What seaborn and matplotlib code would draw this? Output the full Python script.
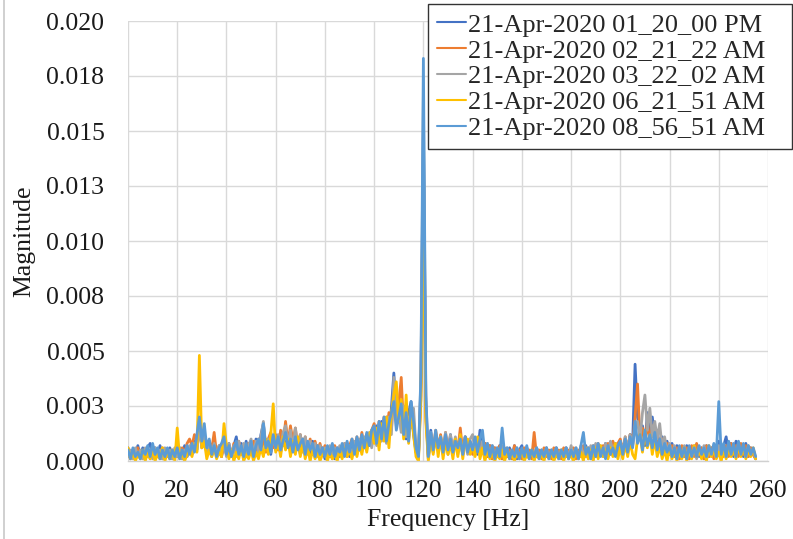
import numpy as np
import pandas as pd
import matplotlib
matplotlib.use("Agg")
import matplotlib.pyplot as plt
from matplotlib.lines import Line2D
import seaborn as sns

# Frequency axis: 1 Hz bins, 0..255 Hz
freq_hz = list(range(256))

# Spectral magnitudes in units of 1e-4
mag_0120pm = [
    6, 2, 5, 1, 7, 2, 6, 1, 6, 8, 3, 6, 2, 7, 1, 5, 2, 6, 1, 5,
    2, 6, 1, 7, 2, 6, 3, 9, 5, 18, 7, 12, 3, 8, 2, 7, 3, 6, 2, 9,
    3, 8, 2, 7, 11, 3, 8, 2, 9, 3, 8, 2, 10, 4, 12, 17, 5, 9, 3, 10,
    5, 9, 4, 11, 6, 12, 4, 10, 5, 9, 3, 10, 4, 8, 3, 9, 2, 7, 3, 6,
    1, 6, 2, 7, 1, 6, 2, 7, 3, 8, 2, 9, 4, 10, 5, 11, 6, 12, 7, 13,
    10, 16, 8, 18, 11, 20, 12, 24, 40, 20, 26, 14, 24, 10, 22, 27, 12, 4, 1, 35,
    150, 25, 1, 14, 4, 12, 5, 10, 3, 11, 4, 12, 3, 10, 4, 9, 3, 11, 5, 8,
    4, 9, 3, 14, 5, 8, 2, 7, 1, 6, 2, 7, 1, 5, 2, 6, 1, 7, 1, 5,
    7, 1, 6, 2, 5, 1, 6, 2, 5, 1, 6, 2, 5, 1, 6, 2, 5, 1, 6, 2,
    6, 1, 5, 2, 6, 3, 7, 2, 6, 1, 7, 2, 6, 3, 8, 2, 7, 3, 8, 4,
    9, 3, 10, 5, 12, 8, 44, 20, 12, 16, 7, 22, 12, 20, 10, 14, 6, 11, 4, 9,
    3, 8, 2, 7, 1, 6, 2, 7, 1, 6, 3, 7, 2, 6, 1, 7, 2, 6, 3, 7,
    9, 2, 7, 11, 3, 8, 2, 9, 3, 7, 2, 8, 2, 6, 3, 1,
]
mag_0221am = [
    4, 1, 5, 2, 6, 1, 4, 2, 6, 1, 7, 2, 5, 1, 6, 2, 4, 1, 5, 2,
    5, 2, 6, 3, 8, 10, 7, 12, 9, 17, 6, 11, 4, 9, 5, 13, 3, 7, 2, 8,
    3, 7, 2, 8, 4, 9, 3, 7, 2, 8, 4, 9, 3, 10, 5, 11, 4, 10, 13, 6,
    12, 5, 14, 7, 18, 8, 16, 9, 15, 6, 12, 5, 11, 4, 10, 3, 9, 4, 8, 3,
    7, 2, 6, 1, 7, 2, 6, 3, 8, 2, 7, 10, 4, 11, 5, 13, 6, 12, 7, 14,
    17, 9, 18, 11, 20, 12, 22, 14, 30, 18, 26, 38, 14, 25, 10, 22, 16, 4, 2, 30,
    140, 20, 2, 12, 5, 14, 6, 12, 4, 13, 5, 11, 4, 10, 5, 15, 4, 11, 5, 9,
    3, 10, 4, 9, 5, 8, 2, 7, 1, 6, 2, 7, 1, 6, 2, 5, 1, 7, 2, 5,
    1, 6, 2, 5, 1, 13, 2, 5, 1, 6, 2, 5, 1, 6, 2, 5, 1, 6, 2, 5,
    2, 6, 1, 5, 2, 7, 2, 6, 1, 7, 2, 8, 3, 7, 2, 8, 3, 9, 4, 8,
    10, 4, 11, 5, 12, 7, 20, 35, 10, 15, 8, 18, 9, 16, 7, 12, 5, 10, 3, 8,
    3, 7, 2, 6, 1, 7, 2, 6, 1, 7, 2, 8, 3, 6, 1, 7, 2, 6, 1, 7,
    3, 6, 2, 7, 2, 8, 3, 7, 2, 8, 3, 7, 2, 6, 3, 1,
]
mag_0322am = [
    2, 5, 1, 6, 2, 5, 1, 6, 2, 5, 1, 6, 2, 5, 1, 6, 2, 5, 1, 6,
    2, 6, 1, 5, 2, 7, 3, 8, 5, 15, 6, 12, 4, 9, 3, 8, 2, 7, 3, 8,
    2, 8, 3, 7, 2, 9, 3, 8, 2, 7, 10, 3, 9, 4, 11, 18, 6, 10, 4, 11,
    6, 12, 4, 13, 16, 7, 14, 5, 15, 6, 12, 4, 11, 3, 9, 4, 8, 2, 7, 3,
    6, 1, 7, 2, 6, 1, 7, 2, 8, 3, 7, 2, 9, 3, 10, 4, 11, 5, 13, 6,
    14, 7, 17, 9, 18, 8, 20, 12, 38, 16, 24, 13, 25, 11, 20, 15, 24, 6, 2, 38,
    165, 28, 3, 13, 5, 12, 6, 11, 4, 13, 3, 12, 4, 11, 3, 10, 5, 9, 3, 10,
    12, 4, 10, 3, 9, 2, 8, 2, 7, 1, 6, 2, 7, 1, 6, 2, 5, 1, 6, 1,
    5, 2, 6, 1, 5, 2, 6, 1, 5, 2, 6, 1, 5, 2, 6, 1, 5, 2, 6, 1,
    7, 2, 6, 1, 7, 2, 6, 1, 7, 2, 8, 3, 7, 2, 8, 3, 9, 4, 8, 3,
    9, 4, 11, 5, 12, 7, 16, 18, 10, 22, 30, 14, 24, 11, 18, 10, 17, 6, 11, 4,
    8, 2, 7, 1, 6, 2, 7, 1, 6, 2, 7, 1, 6, 2, 7, 1, 6, 2, 7, 2,
    7, 3, 6, 2, 8, 3, 7, 2, 8, 3, 6, 2, 7, 3, 5, 1,
]
mag_0621am = [
    6, 1, 4, 0, 3, 1, 5, 0, 4, 1, 5, 0, 3, 1, 6, 0, 4, 1, 5, 0,
    15, 1, 4, 0, 3, 5, 2, 8, 4, 48, 6, 9, 1, 5, 2, 6, 1, 4, 2, 17,
    7, 1, 5, 0, 4, 1, 6, 0, 3, 1, 5, 0, 4, 1, 6, 2, 10, 3, 12, 26,
    4, 9, 2, 11, 5, 10, 2, 9, 3, 11, 2, 8, 1, 6, 0, 5, 1, 4, 0, 3,
    5, 0, 4, 1, 3, 0, 5, 1, 6, 2, 5, 1, 7, 2, 8, 3, 10, 4, 12, 14,
    8, 15, 5, 17, 9, 20, 6, 22, 30, 36, 18, 28, 10, 30, 8, 24, 12, 2, 0, 28,
    120, 18, 0, 10, 3, 12, 2, 11, 1, 9, 3, 8, 1, 10, 2, 12, 1, 9, 10, 3,
    7, 2, 11, 1, 6, 0, 5, 1, 4, 0, 3, 1, 5, 0, 4, 1, 3, 0, 4, 1,
    5, 0, 3, 1, 5, 0, 4, 1, 3, 0, 5, 1, 4, 0, 3, 1, 5, 0, 4, 1,
    3, 0, 5, 1, 4, 0, 6, 1, 5, 0, 6, 1, 7, 2, 5, 1, 6, 2, 8, 1,
    6, 1, 8, 2, 9, 3, 1, 10, 12, 4, 14, 6, 12, 3, 10, 2, 7, 1, 5, 0,
    6, 1, 5, 0, 4, 1, 6, 0, 5, 1, 7, 2, 6, 1, 5, 0, 7, 2, 5, 1,
    4, 0, 5, 1, 6, 2, 5, 1, 7, 2, 6, 1, 5, 2, 6, 1,
]
mag_0856am = [
    5, 1, 6, 2, 4, 1, 5, 3, 7, 2, 8, 3, 6, 1, 5, 2, 6, 1, 5, 2,
    6, 1, 5, 2, 7, 3, 8, 4, 12, 20, 9, 17, 6, 10, 3, 7, 2, 6, 8, 11,
    3, 7, 2, 6, 9, 3, 7, 2, 8, 3, 9, 2, 7, 10, 5, 17, 6, 9, 4, 12,
    6, 11, 5, 9, 13, 6, 10, 4, 11, 5, 8, 10, 3, 9, 5, 8, 2, 7, 3, 6,
    2, 7, 3, 8, 2, 6, 4, 8, 2, 9, 4, 10, 3, 11, 5, 12, 6, 13, 7, 14,
    16, 8, 18, 10, 20, 9, 17, 22, 27, 14, 20, 26, 12, 22, 9, 27, 18, 6, 2, 40,
    183, 30, 2, 13, 5, 14, 6, 11, 4, 12, 5, 10, 4, 9, 6, 10, 3, 11, 4, 9,
    5, 11, 4, 10, 14, 3, 8, 2, 7, 1, 6, 2, 15, 3, 6, 1, 5, 2, 6, 1,
    6, 2, 7, 1, 5, 2, 6, 1, 5, 2, 6, 1, 5, 2, 6, 1, 5, 2, 6, 1,
    5, 2, 6, 1, 7, 13, 3, 6, 1, 7, 2, 8, 2, 6, 1, 7, 3, 6, 2, 7,
    9, 3, 10, 4, 11, 6, 18, 8, 12, 5, 14, 7, 12, 6, 13, 5, 10, 3, 8, 4,
    7, 2, 6, 1, 7, 2, 6, 1, 7, 2, 6, 2, 7, 3, 6, 2, 7, 3, 8, 2,
    27, 3, 8, 2, 9, 3, 8, 2, 9, 3, 8, 2, 7, 3, 6, 2,
]

series_names = [
    "21-Apr-2020 01_20_00 PM",
    "21-Apr-2020 02_21_22 AM",
    "21-Apr-2020 03_22_02 AM",
    "21-Apr-2020 06_21_51 AM",
    "21-Apr-2020 08_56_51 AM",
]
series_values = [mag_0120pm, mag_0221am, mag_0322am, mag_0621am, mag_0856am]
series_colors = ["#4472C4", "#ED7D31", "#A5A5A5", "#FFC000", "#5B9BD5"]

x_ticks = list(range(0, 261, 20))
y_ticks = [0.0, 0.0025, 0.005, 0.0075, 0.01, 0.0125, 0.015, 0.0175, 0.02]
y_tick_labels = ["0.000", "0.003", "0.005", "0.008", "0.010",
                 "0.013", "0.015", "0.018", "0.020"]

frames = []
for name, vals in zip(series_names, series_values):
    frames.append(pd.DataFrame({
        "Frequency": freq_hz,
        "Magnitude": np.array(vals, dtype=float) * 1e-4,
        "Series": name,
    }))
df = pd.concat(frames, ignore_index=True)

sns.set_style("whitegrid")
plt.rcParams["font.family"] = ["Liberation Serif", "DejaVu Serif"]

fig = plt.figure(figsize=(7.93, 5.39), dpi=100)
ax = fig.add_axes([128 / 793, 1 - 461 / 539, 640 / 793, 440 / 539])

sns.lineplot(data=df, x="Frequency", y="Magnitude", hue="Series",
             hue_order=series_names, palette=series_colors,
             estimator=None, linewidth=2.0, ax=ax, legend=True)

ax.set_xlim(0, 260)
ax.set_ylim(0, 0.02)
ax.set_xticks(x_ticks)
ax.set_xticklabels([str(t) for t in x_ticks])
ax.set_yticks(y_ticks)
ax.set_yticklabels(y_tick_labels)
ax.tick_params(axis="both", length=0, labelsize=18.5, colors="#1a1a1a")
ax.tick_params(axis="y", pad=17)
ax.tick_params(axis="x", pad=14)
ax.grid(True, color="#d9d9d9", linewidth=1.0)
for side in ["top", "right", "left"]:
    ax.spines[side].set_visible(False)
ax.spines["bottom"].set_color("#d0d0d0")
ax.spines["bottom"].set_linewidth(1.0)

ax.set_xlabel("Frequency [Hz]", fontsize=18.5, color="#1a1a1a", labelpad=5)
ax.set_ylabel("Magnitude", fontsize=18.5, color="#1a1a1a", labelpad=8)

# legend box spanning a fixed region at the top right of the figure
handles, labels = ax.get_legend_handles_labels()
leg_box = (428 / 793, 1 - 149 / 539, 364 / 793, 145 / 539)
leg = ax.legend(handles, labels, loc="upper left", mode="expand",
                bbox_to_anchor=leg_box, bbox_transform=fig.transFigure,
                fontsize=19, frameon=True, fancybox=False,
                edgecolor="#333333", framealpha=1.0,
                handlelength=1.1, handletextpad=0.05,
                labelspacing=0.09, borderpad=0.35, borderaxespad=0)
leg.get_frame().set_linewidth(1.0)
for line in leg.get_lines():
    line.set_linewidth(1.5)

# thin border on the left edge of the chart area
fig.add_artist(Line2D([4 / 793, 4 / 793], [0, 1], transform=fig.transFigure,
                      color="#c8c8c8", linewidth=1.2))

fig.savefig("out.png", dpi=100)
